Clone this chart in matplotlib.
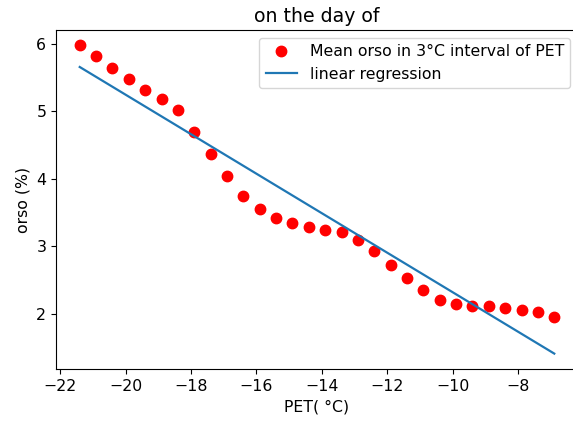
import numpy as np
import matplotlib
matplotlib.use('Agg')
import matplotlib.pyplot as plt

# PET bin centres (°C) and mean orso (%) per bin
pet = [-21.4, -20.9, -20.4, -19.9, -19.4, -18.9, -18.4, -17.9, -17.4, -16.9,
       -16.4, -15.9, -15.4, -14.9, -14.4, -13.9, -13.4, -12.9, -12.4, -11.9,
       -11.4, -10.9, -10.4, -9.9, -9.4, -8.9, -8.4, -7.9, -7.4, -6.9]
orso = [5.98, 5.82, 5.64, 5.48, 5.32, 5.18, 5.02, 4.69, 4.37, 4.05,
        3.74, 3.56, 3.42, 3.35, 3.28, 3.25, 3.22, 3.09, 2.93, 2.72,
        2.53, 2.36, 2.21, 2.14, 2.11, 2.12, 2.09, 2.06, 2.02, 1.95]

# regression line end values at the first and last PET bin
reg_x = [pet[0], pet[-1]]
reg_y = [5.66, 1.41]

plt.rcParams['font.size'] = 11.3

fig = plt.figure(figsize=(5.73, 4.22), dpi=100)
ax = fig.add_axes([56 / 573, 53 / 422, 522 / 573, 339 / 422])

ax.plot(pet, orso, 'ro', markersize=7.5, label='Mean orso in 3°C interval of PET')
ax.plot(reg_x, reg_y, color='#1f77b4', linewidth=1.6, label='linear regression')

ax.set_xticks([-22, -20, -18, -16, -14, -12, -10, -8])
ax.set_yticks([2, 3, 4, 5, 6])
ax.set_xlabel('PET( °C)')
ax.set_ylabel('orso (%)')
ax.set_title('on the day of')
ax.legend(loc='upper right')

fig.savefig('out.png', dpi=100)
